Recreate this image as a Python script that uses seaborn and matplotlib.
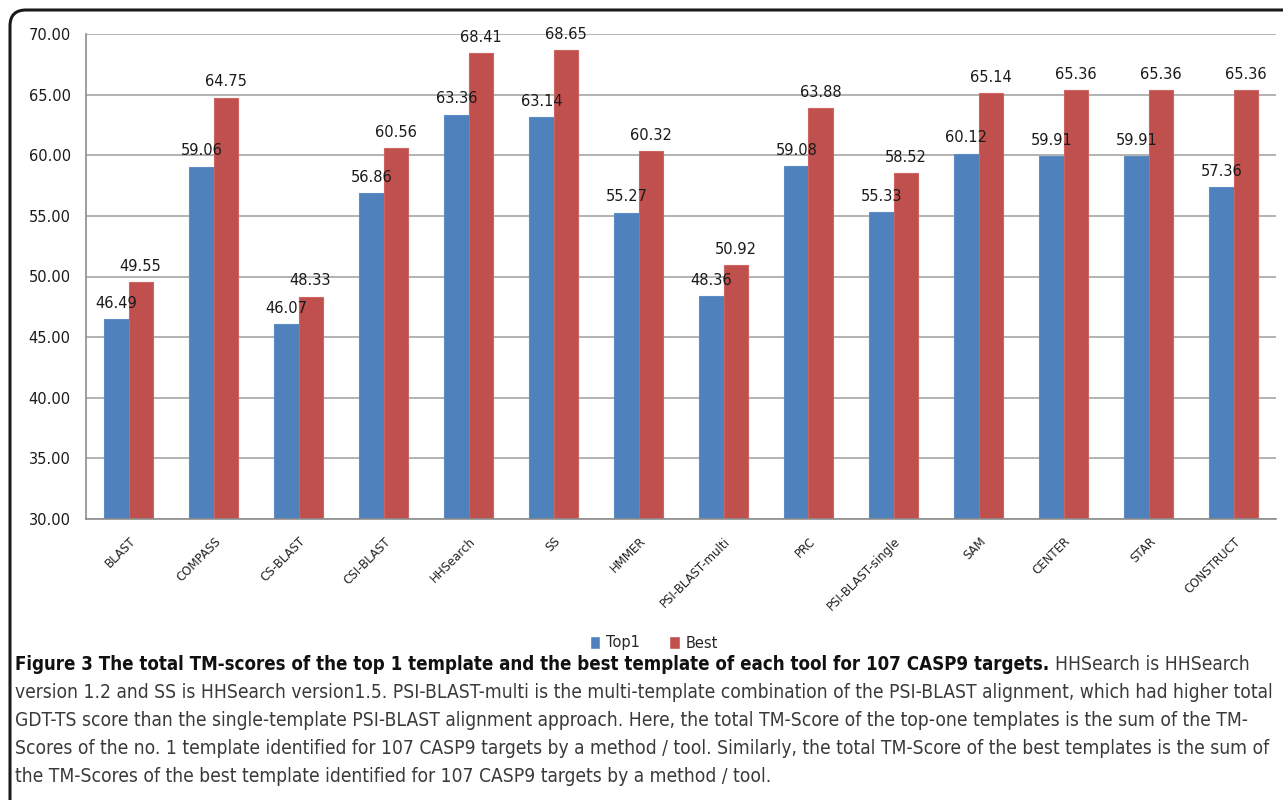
import numpy as np
import pandas as pd
import matplotlib
matplotlib.use("Agg")
import matplotlib.pyplot as plt
import seaborn as sns
from matplotlib.patches import FancyBboxPatch
from matplotlib.transforms import IdentityTransform, ScaledTranslation
from matplotlib.font_manager import FontProperties, fontManager
from matplotlib.ticker import FormatStrFormatter

# ---- data -------------------------------------------------------------
tools = ["BLAST", "COMPASS", "CS-BLAST", "CSI-BLAST", "HHSearch", "SS", "HMMER",
         "PSI-BLAST-multi", "PRC", "PSI-BLAST-single", "SAM", "CENTER", "STAR",
         "CONSTRUCT"]
top1 = [46.49, 59.06, 46.07, 56.86, 63.36, 63.14, 55.27, 48.36, 59.08, 55.33,
        60.12, 59.91, 59.91, 57.36]
best = [49.55, 64.75, 48.33, 60.56, 68.41, 68.65, 60.32, 50.92, 63.88, 58.52,
        65.14, 65.36, 65.36, 65.36]
series = ["Top1", "Best"]
y_ticks = [30, 35, 40, 45, 50, 55, 60, 65, 70]

caption_bold = ("Figure 3 The total TM-scores of the top 1 template and the best "
                "template of each tool for 107 CASP9 targets.")
caption_lines = [
    "HHSearch is HHSearch",
    "version 1.2 and SS is HHSearch version1.5. PSI-BLAST-multi is the multi-template "
    "combination of the PSI-BLAST alignment, which had higher total",
    "GDT-TS score than the single-template PSI-BLAST alignment approach. Here, the total "
    "TM-Score of the top-one templates is the sum of the TM-",
    "Scores of the no. 1 template identified for 107 CASP9 targets by a method / tool. "
    "Similarly, the total TM-Score of the best templates is the sum of",
    "the TM-Scores of the best template identified for 107 CASP9 targets by a method / tool.",
]

df = pd.DataFrame({
    "tool": tools * 2,
    "series": [series[0]] * len(tools) + [series[1]] * len(tools),
    "score": top1 + best,
})

# ---- style --------------------------------------------------------------
sns.set_style("white")
plt.rcParams["font.family"] = ["DejaVu Sans"]

W, H = 1283, 800
fig = plt.figure(figsize=(W / 100, H / 100), dpi=100)
fig.patch.set_facecolor("white")


def fx(px):
    return px / W


def fy(py):
    return 1 - py / H


ax = fig.add_axes([fx(86), fy(519), fx(1276) - fx(86), fy(34) - fy(519)])
sns.barplot(data=df, x="tool", y="score", hue="series",
            palette=["#4F81BD", "#C0504D"], saturation=1, width=0.565,
            errorbar=None, ax=ax)

for cont, edge in zip(ax.containers, ["#5E8CC6", "#CC6461"]):
    for patch in cont:
        patch.set_edgecolor(edge)
        patch.set_linewidth(0.8)
    ax.bar_label(cont, fmt="%.2f", padding=6, fontsize=10.5, color="#1a1a1a")

ax.set_ylim(30, 70)
ax.set_xlim(-0.5, len(tools) - 0.5)
ax.set_yticks(y_ticks)
ax.yaxis.set_major_formatter(FormatStrFormatter("%.2f"))
ax.set_axisbelow(True)
ax.yaxis.grid(True, color="#A6A6A6", linewidth=1.2)
ax.set_xlabel("")
ax.set_ylabel("")

for side in ["top", "right"]:
    ax.spines[side].set_visible(False)
for side in ["left", "bottom"]:
    ax.spines[side].set_color("#8C8C8C")
    ax.spines[side].set_linewidth(1.2)

ax.set_xticks(np.arange(-0.5, len(tools), 1), minor=True)
ax.tick_params(axis="x", which="minor", length=6, color="#8C8C8C", width=1.2)
ax.tick_params(axis="x", which="major", length=0, pad=14)
ax.tick_params(axis="y", length=5, color="#8C8C8C", width=1.2, pad=6,
               labelsize=10.5, labelcolor="#1a1a1a")
ax.set_xticks(range(len(tools)))
ax.set_xticklabels(tools, rotation=45, ha="right", va="center",
                   rotation_mode="anchor", fontsize=8.5, color="#222222")
shift = ScaledTranslation(5 / 100, -1 / 100, fig.dpi_scale_trans)
for lab in ax.get_xticklabels():
    lab.set_transform(lab.get_transform() + shift)

handles, labels = ax.get_legend_handles_labels()
if ax.legend_ is not None:
    ax.legend_.remove()
fig.legend(handles, labels, loc="center", bbox_to_anchor=(fx(654), fy(643)),
           ncol=2, frameon=False, fontsize=10.5, handlelength=0.7,
           handleheight=0.9, handletextpad=0.4, columnspacing=2.0)

# ---- rounded panel border -------------------------------------------------
border = FancyBboxPatch((10, -60), 1340, H - 10 + 60, transform=IdentityTransform(),
                        boxstyle="round,pad=0,rounding_size=16",
                        facecolor="none", edgecolor="#1a1a1a", linewidth=2.2)
fig.patches.append(border)


# ---- caption ----------------------------------------------------------------
def find_face(bold):
    families = ["Liberation Sans Narrow", "Noto Sans", "DejaVu Sans", "Open Sans",
                "Roboto", "Lato", "Inter"]
    want = 700 if bold else 400
    for fam in families:
        for f in fontManager.ttflist:
            fname = f.fname.lower()
            narrow = ("condensed" in fname or "narrow" in fname
                      or str(f.stretch) == "condensed")
            if not narrow or not f.name.startswith(fam.split(" Narrow")[0]):
                continue
            if "semi" in fname or "extra" in fname:
                continue
            if f.style != "normal":
                continue
            w = f.weight
            if isinstance(w, str):
                w = {"normal": 400, "regular": 400, "bold": 700}.get(w, 400)
            if w == want:
                return FontProperties(fname=f.fname)
    return FontProperties(family=["Liberation Sans", "DejaVu Sans"],
                          weight="bold" if bold else "normal")


fp_reg = find_face(False)
fp_bold = find_face(True)

fig.canvas.draw()
renderer = fig.canvas.get_renderer()


def fit_size(text, fp, width_px, start=16):
    t = fig.text(0, 0, text, fontproperties=fp, fontsize=start)
    w = t.get_window_extent(renderer).width
    t.remove()
    return start * width_px / w


x0 = 15
size_reg = fit_size(caption_lines[3], fp_reg, 1275 - x0)
size_bold = fit_size(caption_bold, fp_bold, 1055 - x0)
line_y = [665, 693, 721, 749, 777]

tb = fig.text(fx(x0), fy(line_y[0]), caption_bold, fontproperties=fp_bold,
              fontsize=size_bold, color="#111111", va="center")
bb = tb.get_window_extent(renderer)
fig.text(fx(bb.x1 + 6), fy(line_y[0]), caption_lines[0], fontproperties=fp_reg,
         fontsize=size_reg, color="#3a3a3a", va="center")
for text, py in zip(caption_lines[1:], line_y[1:]):
    fig.text(fx(x0), fy(py), text, fontproperties=fp_reg, fontsize=size_reg,
             color="#3a3a3a", va="center")

fig.savefig("out.png", dpi=100)
